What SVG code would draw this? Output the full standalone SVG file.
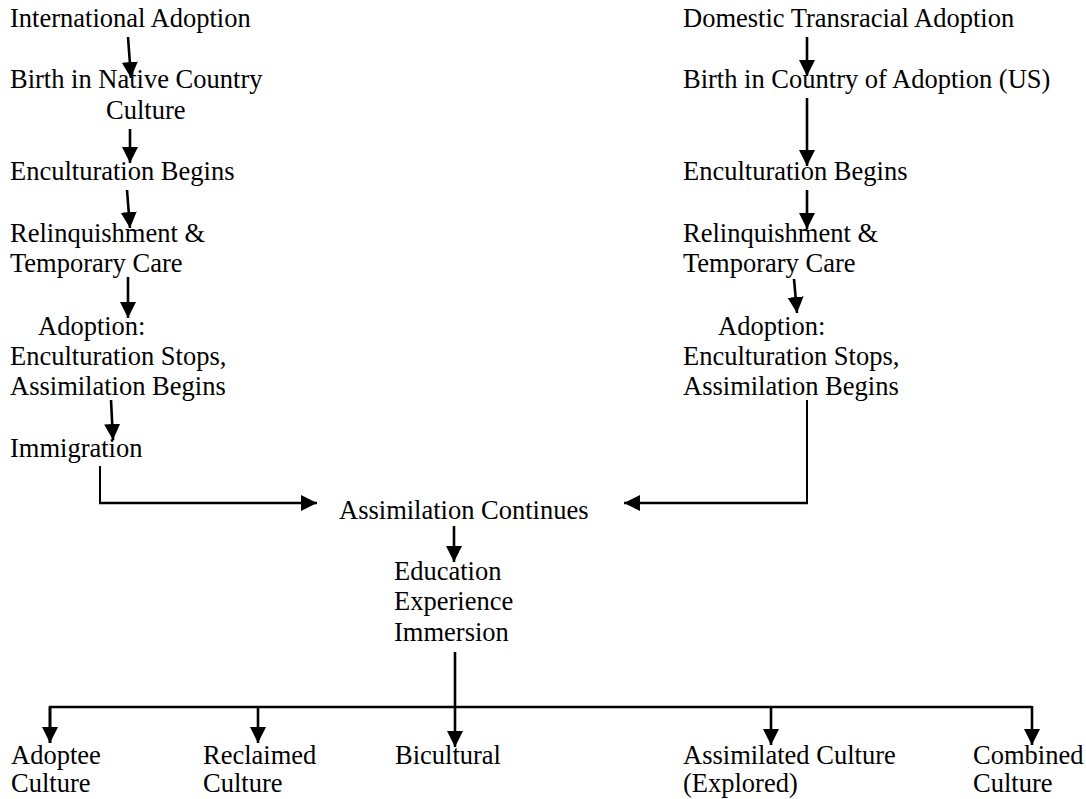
<svg xmlns="http://www.w3.org/2000/svg" width="1086" height="799" viewBox="0 0 1086 799">
<style>
text{font-family:"Liberation Serif","Times New Roman",serif;font-size:26.5px;fill:#000}
.c{fill:none;stroke:#000;stroke-width:2.6}
.t{stroke-width:2}
.a{marker-end:url(#ah)}
</style>
<defs>
<marker id="ah" markerUnits="userSpaceOnUse" markerWidth="17" markerHeight="17" refX="16" refY="8" orient="auto">
<path d="M0,0 L16,8 L0,16 z" fill="#000"/>
</marker>
</defs>
<rect width="1086" height="799" fill="#fff"/>
<g id="connectors">
<line class="c a" x1="128" y1="37" x2="131" y2="78"/>
<line class="c a" x1="130" y1="129" x2="130" y2="163"/>
<line class="c a" x1="127" y1="190" x2="130" y2="228"/>
<line class="c a" x1="128" y1="277" x2="128" y2="318"/>
<line class="c a" x1="111" y1="400" x2="113" y2="440"/>
<path class="c t" d="M100,466 V503"/>
<path class="c a" d="M99,503 H317"/>
<line class="c a" x1="807" y1="37" x2="807" y2="76"/>
<line class="c a" x1="807" y1="98" x2="807" y2="166"/>
<line class="c a" x1="807" y1="190" x2="807" y2="229"/>
<line class="c a" x1="794" y1="279" x2="797" y2="313"/>
<path class="c t" d="M807,400 V503"/>
<path class="c a" d="M808,503 H624"/>
<line class="c a" x1="454" y1="526" x2="454" y2="562"/>
<line class="c a" x1="455" y1="652" x2="455" y2="747"/>
<path class="c" d="M50,743 V707 H1032"/>
<line class="c a" x1="50" y1="707" x2="50" y2="743"/>
<line class="c a" x1="258" y1="707" x2="258" y2="743"/>
<line class="c a" x1="771" y1="707" x2="771" y2="745"/>
<line class="c a" x1="1032" y1="706" x2="1032" y2="745"/>
</g>
<g id="n-intl"><text x="10" y="27">International Adoption</text></g>
<g id="n-birth-native"><text x="10" y="88">Birth in Native Country</text><text x="106" y="119">Culture</text></g>
<g id="n-encult-l"><text x="10" y="180">Enculturation Begins</text></g>
<g id="n-relinq-l"><text x="10" y="242">Relinquishment &amp;</text><text x="10" y="272">Temporary Care</text></g>
<g id="n-adopt-l"><text x="38" y="335">Adoption:</text><text x="10" y="365">Enculturation Stops,</text><text x="10" y="395">Assimilation Begins</text></g>
<g id="n-immig"><text x="10" y="457">Immigration</text></g>
<g id="n-domestic"><text x="683" y="27">Domestic Transracial Adoption</text></g>
<g id="n-birth-us"><text x="683" y="88">Birth in Country of Adoption (US)</text></g>
<g id="n-encult-r"><text x="683" y="180">Enculturation Begins</text></g>
<g id="n-relinq-r"><text x="683" y="242">Relinquishment &amp;</text><text x="683" y="272">Temporary Care</text></g>
<g id="n-adopt-r"><text x="718" y="335">Adoption:</text><text x="683" y="365">Enculturation Stops,</text><text x="683" y="395">Assimilation Begins</text></g>
<g id="n-assim-cont"><text x="339" y="519">Assimilation Continues</text></g>
<g id="n-edu"><text x="394" y="580">Education</text><text x="394" y="610">Experience</text><text x="394" y="641">Immersion</text></g>
<g id="n-adoptee"><text x="11" y="764">Adoptee</text><text x="11" y="792">Culture</text></g>
<g id="n-reclaimed"><text x="203" y="764">Reclaimed</text><text x="203" y="792">Culture</text></g>
<g id="n-bicultural"><text x="395" y="764">Bicultural</text></g>
<g id="n-assimilated"><text x="683" y="764">Assimilated Culture</text><text x="683" y="792">(Explored)</text></g>
<g id="n-combined"><text x="973" y="764">Combined</text><text x="973" y="792">Culture</text></g>
</svg>
